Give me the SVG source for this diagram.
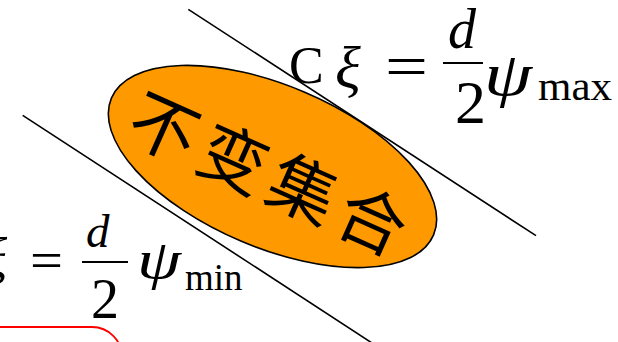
<svg xmlns="http://www.w3.org/2000/svg" width="618" height="342" viewBox="0 0 618 342">
<style>
.ln{stroke:#000;stroke-width:1.6;fill:none}
.m{font-family:"Liberation Serif","Times New Roman",serif;fill:#000}
.i{font-style:italic}
.bar{stroke:#000;stroke-width:2.2}
</style>
<rect width="618" height="342" fill="#fff"/>
<g id="connectors">
<line class="ln" x1="188.3" y1="9.3" x2="536" y2="235.7"/>
<line class="ln" x1="22.7" y1="115.3" x2="372" y2="343"/>
</g>
<g id="invariant-set">
<ellipse cx="272.5" cy="166.5" rx="175" ry="81" transform="rotate(23 272.5 166.5)" fill="#FF9900" stroke="#000" stroke-width="1.6"/>
<text x="0" y="0" transform="translate(270 170) rotate(24)" text-anchor="middle" dominant-baseline="central" font-family="Noto Sans CJK SC, sans-serif" font-size="68" letter-spacing="8" dx="4">不变集合</text>
</g>
<g id="eq-max">
<text class="m" x="289" y="83" font-size="52">C</text>
<text class="m i" x="335" y="88" font-size="60">ξ</text>
<text class="m" x="385" y="86" font-size="60" textLength="43" lengthAdjust="spacingAndGlyphs">=</text>
<line class="bar" x1="443" y1="63" x2="483" y2="63"/>
<text class="m i" x="448" y="48" font-size="56">d</text>
<text class="m" x="455" y="123" font-size="62">2</text>
<text class="m i" x="484" y="95" font-size="62" textLength="48" lengthAdjust="spacingAndGlyphs">ψ</text>
<text class="m" x="538" y="100" font-size="43">max</text>
</g>
<g id="eq-min">
<text class="m i" x="-16" y="276" font-size="54">ξ</text>
<text class="m" x="30" y="278" font-size="52" textLength="33" lengthAdjust="spacingAndGlyphs">=</text>
<line class="bar" x1="82" y1="262" x2="128" y2="262"/>
<text class="m i" x="86" y="247" font-size="47">d</text>
<text class="m" x="91" y="318" font-size="56">2</text>
<text class="m i" x="137" y="278" font-size="54" textLength="44" lengthAdjust="spacingAndGlyphs">ψ</text>
<text class="m" x="185" y="290" font-size="37">min</text>
</g>
<g id="red-box">
<rect x="-60" y="327" width="182" height="80" rx="30" fill="none" stroke="#FF0000" stroke-width="1.8"/>
</g>
</svg>
